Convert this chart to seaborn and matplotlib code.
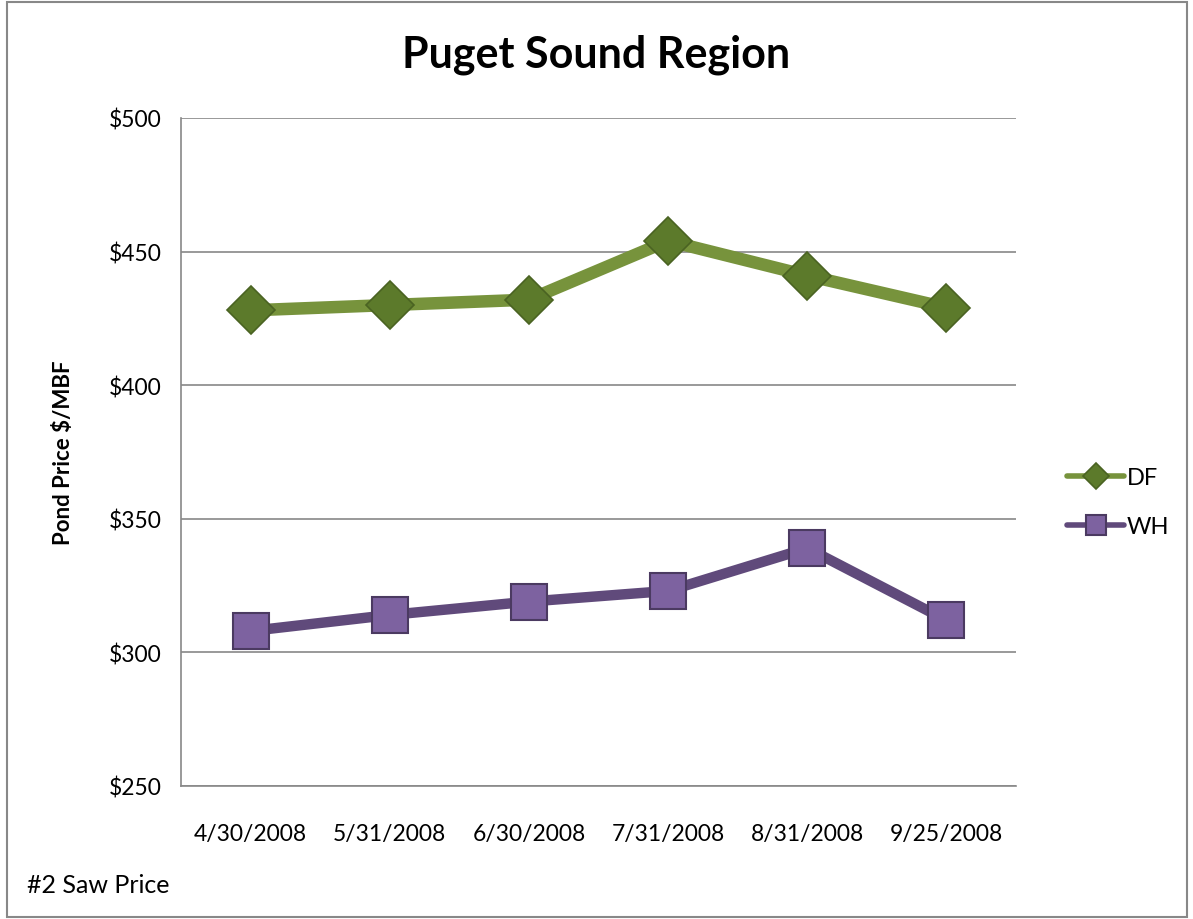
import pandas as pd
import seaborn as sns
import matplotlib.pyplot as plt
from matplotlib.ticker import FixedLocator, FuncFormatter

dates = ['4/30/2008', '5/31/2008', '6/30/2008', '7/31/2008', '8/31/2008', '9/25/2008']
df_price = [428, 430, 432, 454, 441, 429]
wh_price = [308, 314, 319, 323, 339, 312]

sns.set_style('white')
plt.rcParams['font.family'] = ['Lato', 'DejaVu Sans']
plt.rcParams['text.color'] = 'black'
plt.rcParams['xtick.color'] = 'black'
plt.rcParams['ytick.color'] = 'black'
plt.rcParams['axes.labelcolor'] = 'black'

data = pd.DataFrame({
    'date': dates * 2,
    'price': df_price + wh_price,
    'species': ['DF'] * len(dates) + ['WH'] * len(dates),
})

fig = plt.figure(figsize=(11.93, 9.2), dpi=100)
ax = fig.add_axes([0.1517, 0.1446, 0.7, 0.7261])

line_cols = {'DF': '#77933C', 'WH': '#604A7B'}
sns.lineplot(data=data, x='date', y='price', hue='species', palette=line_cols,
             sort=False, ax=ax, legend=False, linewidth=0)

styles = {
    'DF': dict(marker='D', lw=9, ms=24, mfc='#5C7A2B', mec='#4A6322', mew=1.2),
    'WH': dict(marker='s', lw=7.5, ms=26, mfc='#7D62A0', mec='#4B3A61', mew=1.5),
}
handles = []
for sp, vals in [('DF', df_price), ('WH', wh_price)]:
    st = styles[sp]
    h, = ax.plot(range(len(dates)), vals, color=line_cols[sp], solid_capstyle='round',
                 solid_joinstyle='round', label=sp, zorder=3, **st)
    handles.append(h)

ax.set_xlim(-0.5, len(dates) - 0.5)
ax.set_ylim(250, 500)
ax.set_yticks(range(250, 501, 50))
ax.yaxis.set_major_formatter(FuncFormatter(lambda v, p: f'${v:.0f}'))
ax.set_xticks(range(len(dates)))
ax.set_xticklabels(dates)
ax.xaxis.set_minor_locator(FixedLocator([i - 0.5 for i in range(len(dates) + 1)]))
ax.tick_params(axis='x', which='major', length=0, pad=27, labelsize=16.5)
ax.tick_params(axis='x', which='minor', length=8, width=1.2, color='#888888', direction='out')
ax.tick_params(axis='y', length=8, width=1.2, color='#888888', labelcolor='black',
               direction='out', labelsize=16.5, pad=6)
ax.grid(axis='y', color='#888888', linewidth=1.2)
ax.set_axisbelow(True)
for s in ['top', 'right']:
    ax.spines[s].set_visible(False)
for s in ['left', 'bottom']:
    ax.spines[s].set_color('#888888')
    ax.spines[s].set_linewidth(1.2)

ax.set_xlabel('')
ax.set_ylabel('Pond Price $/MBF', fontsize=16, fontweight='bold')
ax.yaxis.set_label_coords(-0.128, 0.5)

fig.suptitle('Puget Sound Region', fontsize=31, fontweight='bold', y=0.962)
fig.text(0.0226, 0.029, '#2 Saw Price', fontsize=18)

leg = ax.legend(handles=handles, labels=['DF', 'WH'], loc='center left',
                bbox_to_anchor=(1.036, 0.425), frameon=False, fontsize=17,
                handlelength=2.4, markerscale=0.55, labelspacing=1.2, handletextpad=0.1)
for lh in leg.get_lines():
    lh.set_linewidth(4)

fig.patches.append(plt.Rectangle((0.006, 0.002), 0.989, 0.995, transform=fig.transFigure,
                                 fill=False, edgecolor='#888888', linewidth=1.5))

fig.savefig('out.png', dpi=100)
